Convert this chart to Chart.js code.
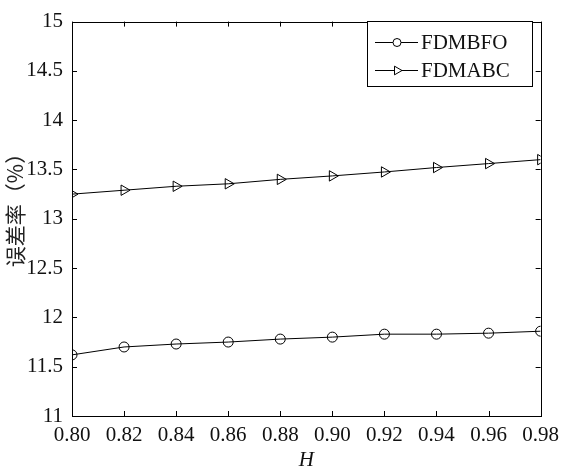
<!DOCTYPE html>
<html>
<head>
<meta charset="utf-8">
<script src="https://cdn.jsdelivr.net/npm/chart.js@4/dist/chart.umd.min.js"></script>
<style>
  html, body { margin: 0; padding: 0; background: #ffffff; }
  #wrap { width: 566px; height: 473px; position: relative; }
</style>
</head>
<body>
<div id="wrap"><canvas id="c" width="566" height="473"></canvas></div>
<script>
// ---- data ----
const hValues = [0.80, 0.82, 0.84, 0.86, 0.88, 0.90, 0.92, 0.94, 0.96, 0.98];
const fdmbfo  = [11.62, 11.70, 11.73, 11.75, 11.78, 11.80, 11.83, 11.83, 11.84, 11.86];
const fdmabc  = [13.25, 13.29, 13.33, 13.355, 13.40, 13.435, 13.475, 13.52, 13.56, 13.60];
const seriesNames = ['FDMBFO', 'FDMABC'];
const xTickValues = [0.80, 0.82, 0.84, 0.86, 0.88, 0.90, 0.92, 0.94, 0.96, 0.98];
const yTickValues = [11, 11.5, 12, 12.5, 13, 13.5, 14, 14.5, 15];
const xTitle = 'H';
const yTitle = '误差率（%）';

const SERIF = '"Liberation Serif", "DejaVu Serif", serif';

function pts(ys) { return hValues.map((x, i) => ({ x: x, y: ys[i] })); }

const framePlugin = {
  id: 'frame',
  afterDraw(chart) {
    const ctx = chart.ctx;
    const a = chart.chartArea;
    const xs = chart.scales.x, ys = chart.scales.y;
    ctx.save();
    ctx.strokeStyle = '#000';
    ctx.lineWidth = 1;
    // box
    ctx.strokeRect(Math.round(a.left) + 0.5, Math.round(a.top) + 0.5,
                   Math.round(a.right - a.left), Math.round(a.bottom - a.top));
    // inward ticks
    const tl = 5;
    ctx.beginPath();
    xTickValues.forEach(v => {
      const px = Math.round(xs.getPixelForValue(v)) + 0.5;
      ctx.moveTo(px, a.bottom); ctx.lineTo(px, a.bottom - tl);
      ctx.moveTo(px, a.top); ctx.lineTo(px, a.top + tl);
    });
    yTickValues.forEach(v => {
      const py = Math.round(ys.getPixelForValue(v)) + 0.5;
      ctx.moveTo(a.left, py); ctx.lineTo(a.left + tl, py);
      ctx.moveTo(a.right, py); ctx.lineTo(a.right - tl, py);
    });
    ctx.stroke();

    // y title (rotated)
    ctx.fillStyle = '#222';
    ctx.font = '21px "Noto Sans CJK SC", sans-serif';
    ctx.translate(15, 205);
    ctx.rotate(-Math.PI / 2);
    ctx.textAlign = 'center';
    ctx.textBaseline = 'middle';
    ctx.fillText(yTitle, 0, 0);
    ctx.setTransform(1, 0, 0, 1, 0, 0);

    // legend
    const bx = 367, by = 21, bw = 165, bh = 65;
    ctx.fillStyle = '#fff';
    ctx.fillRect(bx, by, bw, bh);
    ctx.strokeStyle = '#000';
    ctx.strokeRect(bx + 0.5, by + 0.5, bw, bh);
    const rows = [42, 70];
    chart.data.datasets.forEach((ds, i) => {
      const yy = rows[i] + 0.5;
      ctx.strokeStyle = '#000';
      ctx.lineWidth = 1;
      ctx.beginPath();
      ctx.moveTo(375, yy); ctx.lineTo(418, yy);
      ctx.stroke();
      ctx.fillStyle = '#fff';
      ctx.strokeStyle = '#000';
      Chart.helpers.drawPoint(ctx, {
        pointStyle: ds.pointStyle,
        rotation: ds.pointRotation || 0,
        radius: ds.pointRadius - 1,
        borderWidth: 1
      }, 397, yy);
      ctx.fillStyle = '#111';
      ctx.font = '21px ' + SERIF;
      ctx.textAlign = 'left';
      ctx.textBaseline = 'middle';
      ctx.fillText(ds.label, 421, yy + 1);
    });
    ctx.restore();
  }
};

new Chart(document.getElementById('c'), {
  type: 'line',
  data: {
    datasets: [
      {
        label: seriesNames[0],
        data: pts(fdmbfo),
        borderColor: '#000',
        borderWidth: 1,
        pointStyle: 'circle',
        pointRadius: 5,
        pointBorderColor: '#000',
        pointBackgroundColor: 'rgba(0,0,0,0)',
        pointBorderWidth: 1,
        tension: 0
      },
      {
        label: seriesNames[1],
        data: pts(fdmabc),
        borderColor: '#000',
        borderWidth: 1,
        pointStyle: 'triangle',
        pointRotation: 90,
        pointRadius: 6,
        pointBorderColor: '#000',
        pointBackgroundColor: 'rgba(0,0,0,0)',
        pointBorderWidth: 1,
        tension: 0
      }
    ]
  },
  options: {
    responsive: false,
    animation: false,
    devicePixelRatio: 1,
    layout: { padding: { left: 0, right: 24, top: 13, bottom: 0 } },
    plugins: {
      legend: { display: false },
      tooltip: { enabled: false }
    },
    scales: {
      x: {
        type: 'linear',
        min: 0.80,
        max: 0.98,
        afterBuildTicks(scale) { scale.ticks = xTickValues.map(v => ({ value: v })); },
        afterFit(scale) { scale.height = 57; },
        grid: { display: false, drawTicks: false },
        border: { display: false },
        ticks: {
          color: '#111',
          padding: 7,
          maxRotation: 0,
          autoSkip: false,
          font: { family: SERIF, size: 21 },
          callback: v => Number(v).toFixed(2)
        },
        title: {
          display: true,
          text: xTitle,
          color: '#111',
          padding: { top: 2, bottom: 0 },
          font: { family: SERIF, size: 21, style: 'italic' }
        }
      },
      y: {
        type: 'linear',
        min: 11,
        max: 15,
        afterBuildTicks(scale) { scale.ticks = yTickValues.map(v => ({ value: v })); },
        afterFit(scale) { scale.width = 72; },
        grid: { display: false, drawTicks: false },
        border: { display: false },
        ticks: {
          color: '#111',
          padding: 9,
          autoSkip: false,
          font: { family: SERIF, size: 21 },
          callback: v => String(v)
        }
      }
    }
  },
  plugins: [framePlugin]
});
</script>
</body>
</html>
